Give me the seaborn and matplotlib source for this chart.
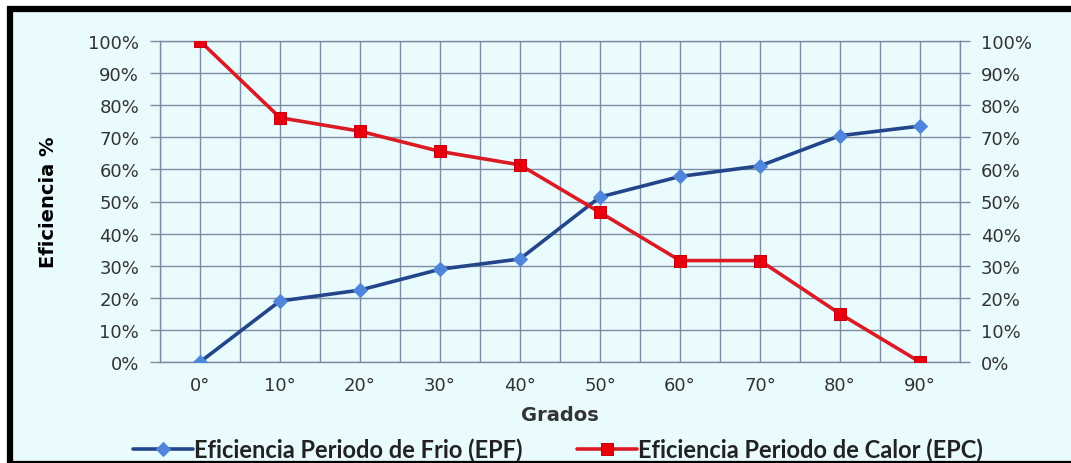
import numpy as np
import pandas as pd
import seaborn as sns
import matplotlib.pyplot as plt
from matplotlib.patches import Rectangle

grados = [0, 10, 20, 30, 40, 50, 60, 70, 80, 90]
grado_labels = ["0°", "10°", "20°", "30°", "40°", "50°", "60°", "70°", "80°", "90°"]
epf = [0, 19, 22.4, 28.9, 32.1, 51.4, 57.8, 61.1, 70.5, 73.5]
epc = [100, 76.1, 71.9, 65.6, 61.4, 46.6, 31.6, 31.6, 15.0, 0]
pct_labels = ["0%", "10%", "20%", "30%", "40%", "50%", "60%", "70%", "80%", "90%", "100%"]

bg = "#e9fbfd"
grid_c = "#7d8ba3"

sns.set_style("white")
plt.rcParams['font.family'] = ['DejaVu Sans']

fig = plt.figure(figsize=(10.71, 4.64), dpi=100)
fig.patch.set_facecolor("white")
# black frame around the chart (right side cut off like the original)
fig.patches.append(Rectangle((10 / 1071, -1 / 464), 1075 / 1071, 455 / 464,
                             transform=fig.transFigure, facecolor=bg,
                             edgecolor="black", linewidth=4.5, zorder=-5))

ax = fig.add_axes([160 / 1071, 1 - 363 / 464, 800 / 1071, 321 / 464])
ax.set_facecolor(bg)

df = pd.DataFrame({"Grados": grados, "EPF": epf, "EPC": epc})

sns.lineplot(data=df, x="Grados", y="EPF", ax=ax, color="#23468a", linewidth=2.6,
             marker="D", markersize=7, markerfacecolor="#4f86dc", markeredgecolor="#4f86dc",
             label="Eficiencia Periodo de Frio (EPF)", zorder=3)
sns.lineplot(data=df, x="Grados", y="EPC", ax=ax, color="#dc1a24", linewidth=2.6,
             marker="s", markersize=8, markerfacecolor="#e8000e", markeredgecolor="#c80010",
             label="Eficiencia Periodo de Calor (EPC)", zorder=3)

ax.set_xlim(-5, 95)
ax.set_ylim(0, 100)

# category boundaries as major ticks, centres as labelled minor ticks
ax.set_xticks(np.arange(-5, 96, 10))
ax.set_xticklabels([])
ax.set_xticks(grados, minor=True)
ax.set_xticklabels(grado_labels, minor=True)
ax.tick_params(axis="x", which="major", length=6, width=1, color=grid_c, direction="out")
ax.tick_params(axis="x", which="minor", length=0, pad=10, labelsize=13, labelcolor="#333333")

ax.set_yticks(np.arange(0, 101, 10))
ax.set_yticklabels(pct_labels)
ax.tick_params(axis="y", length=7, width=1, color=grid_c, direction="out", pad=8,
               labelsize=13, labelcolor="#333333")

ax.grid(True, which="both", axis="x", color=grid_c, linewidth=1)
ax.grid(True, which="major", axis="y", color=grid_c, linewidth=1)
for s in ax.spines.values():
    s.set_color(grid_c)
    s.set_linewidth(1)

ax.set_xlabel("Grados", fontsize=14, fontweight="bold", color="#333333", labelpad=8)
ax.set_ylabel("Eficiencia %", fontsize=14, fontweight="bold", color="black", labelpad=22)

ax2 = ax.twinx()
ax2.set_ylim(0, 100)
ax2.set_yticks(np.arange(0, 101, 10))
ax2.set_yticklabels(pct_labels)
ax2.tick_params(axis="y", length=7, width=1, color=grid_c, direction="out", pad=8,
                labelsize=13, labelcolor="#333333")
for s in ax2.spines.values():
    s.set_visible(False)

handles, labels = ax.get_legend_handles_labels()
ax.legend_.remove()
leg = fig.legend(handles, labels, loc="center", bbox_to_anchor=(558 / 1071, 1 - 450 / 464),
                 ncol=2, frameon=False, handlelength=2.55, handletextpad=0.05,
                 columnspacing=2.3, borderpad=0,
                 prop={"family": "Lato", "weight": "bold", "size": 17})
for t in leg.get_texts():
    t.set_color("#222222")

fig.savefig("out.png", dpi=100, facecolor=fig.get_facecolor())
